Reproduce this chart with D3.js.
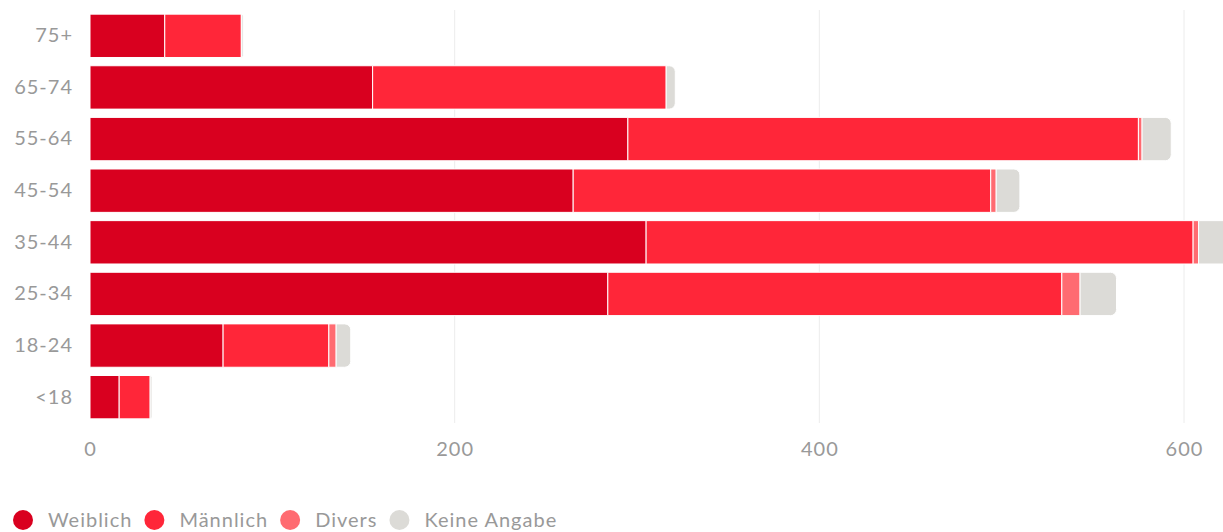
<!DOCTYPE html>
<html>
<head>
<meta charset="utf-8">
<script src="https://cdn.jsdelivr.net/npm/d3@7"></script>
<style>
  html, body { margin: 0; padding: 0; background: #fff; }
  svg { display: block; font-family: Lato, "Noto Sans", sans-serif; }
</style>
</head>
<body>
<svg id="chart" width="1223" height="532"></svg>
<script>
// age groups, top to bottom
const ageGroups = ['75+', '65-74', '55-64', '45-54', '35-44', '25-34', '18-24', '<18'];

// series values per age group
const weiblich    = [41, 155, 295, 265, 305, 284, 73, 16];
const maennlich   = [42, 161, 280, 229, 300, 249, 58, 17];
const divers      = [0, 0, 2, 3, 3, 10, 4, 0];
const keineAngabe = [1, 5, 16, 13, 17, 20, 8, 1];

const seriesNames = ['Weiblich', 'Männlich', 'Divers', 'Keine Angabe'];
const seriesColors = ['#d9001f', '#ff2639', '#ff6b71', '#dcdbd7'];
const xTicks = [0, 200, 400, 600];

const seriesValues = [weiblich, maennlich, divers, keineAngabe];
const rows = ageGroups.map((g, i) => {
  const r = { group: g };
  seriesNames.forEach((s, j) => { r[s] = seriesValues[j][i]; });
  return r;
});

const svg = d3.select('#chart');
const margin = { top: 10, left: 90, bottom: 423 };

const x = d3.scaleLinear().domain([0, 600]).range([90, 1184]);
const y = d3.scaleBand()
  .domain(ageGroups)
  .range([margin.top, margin.bottom])
  .paddingInner(0.16)
  .paddingOuter(0.08);

const stacked = d3.stack().keys(seriesNames)(rows);

// grid lines
svg.append('g')
  .selectAll('line')
  .data(xTicks.filter(t => t > 0))
  .join('line')
    .attr('x1', d => x(d))
    .attr('x2', d => x(d))
    .attr('y1', margin.top)
    .attr('y2', margin.bottom)
    .attr('stroke', '#ececec')
    .attr('stroke-width', 1);

// index of the last non-zero series per row (gets rounded end)
const lastIdx = rows.map(r => {
  let k = 0;
  seriesNames.forEach((s, j) => { if (r[s] > 0) k = j; });
  return k;
});

function segPath(x0, x1, y0, h, rounded) {
  const w = x1 - x0;
  if (!rounded) return `M${x0},${y0}h${w}v${h}h${-w}Z`;
  const r = Math.min(6, w, h / 2);
  return `M${x0},${y0}h${w - r}a${r},${r} 0 0 1 ${r},${r}v${h - 2 * r}` +
         `a${r},${r} 0 0 1 ${-r},${r}h${-(w - r)}Z`;
}

const bars = svg.append('g');
stacked.forEach((layer, j) => {
  bars.append('g')
    .attr('fill', seriesColors[j])
    .selectAll('path')
    .data(layer.filter(d => d[1] > d[0]))
    .join('path')
      .attr('d', d => segPath(x(d[0]), x(d[1]), y(d.data.group), y.bandwidth(),
        lastIdx[ageGroups.indexOf(d.data.group)] === j))
      .attr('stroke', '#fff')
      .attr('stroke-width', 1)
      .attr('stroke-linejoin', 'round');
});

const labelFont = 'Lato, "Noto Sans", sans-serif';

// y axis labels
const yAxis = svg.append('g')
  .attr('transform', `translate(${margin.left},0)`)
  .call(d3.axisLeft(y).tickSize(0).tickPadding(17));
yAxis.select('.domain').remove();
yAxis.selectAll('text')
  .attr('fill', '#999')
  .style('font-size', '20px')
  .style('letter-spacing', '1px')
  .style('font-family', labelFont);

// x axis labels
const xAxis = svg.append('g')
  .attr('transform', 'translate(0,442)')
  .call(d3.axisBottom(x).tickValues(xTicks).tickSize(0).tickPadding(0));
xAxis.select('.domain').remove();
xAxis.selectAll('text')
  .attr('fill', '#999')
  .attr('dy', '0.71em')
  .style('font-size', '20px')
  .style('letter-spacing', '1px')
  .style('font-family', labelFont);

// legend
const legend = svg.append('g');
let cx = 23;
seriesNames.forEach((name, j) => {
  legend.append('circle')
    .attr('cx', cx)
    .attr('cy', 520)
    .attr('r', 10)
    .attr('fill', seriesColors[j]);
  const t = legend.append('text')
    .attr('x', cx + 25)
    .attr('y', 527)
    .attr('fill', '#999')
    .style('font-size', '20px')
    .style('letter-spacing', '1px')
    .text(name);
  cx = cx + 25 + t.node().getComputedTextLength() + 22;
});
</script>
</body>
</html>
